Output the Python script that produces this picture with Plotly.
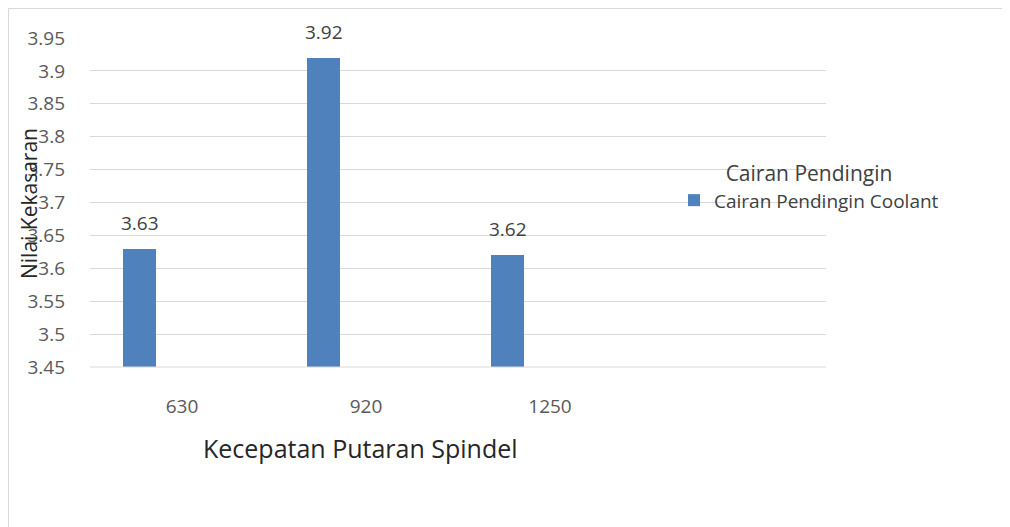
import plotly.graph_objects as go

categories = ["630", "920", "1250"]
values = [3.63, 3.92, 3.62]
value_labels = ["3.63", "3.92", "3.62"]
series_name = "Cairan Pendingin Coolant"
legend_title = "Cairan Pendingin"
y_tickvals = [3.45, 3.5, 3.55, 3.6, 3.65, 3.7, 3.75, 3.8, 3.85, 3.9, 3.95]
y_ticktext = ["3.45", "3.5", "3.55", "3.6", "3.65", "3.7", "3.75", "3.8", "3.85", "3.9", "3.95"]
x_title = "Kecepatan Putaran Spindel"
y_title = "Nilai Kekasaran"

FONT = "Open Sans, Lato, DejaVu Sans, sans-serif"

# page is rendered with an 8px body offset; plot area target (screen px): x 90-826, y 38-367
L, T = 82, 30
PW, PH = 736, 329
W, H = 1010, 527


def px(xs):
    return (xs - 8 - L) / PW


def py(ys):
    return (T + PH - (ys - 8)) / PH


BAR_W = 0.18
BAR_OFF = -0.32

fig = go.Figure()
fig.add_trace(go.Bar(
    x=categories, y=values, name=series_name,
    marker=dict(color="#4F81BD", line=dict(width=0)),
    width=BAR_W, offset=BAR_OFF,
    showlegend=True,
))

for i, (v, t) in enumerate(zip(values, value_labels)):
    fig.add_annotation(x=i + BAR_OFF + BAR_W / 2, y=v, text=t, showarrow=False,
                       yshift=26, xanchor="center", yanchor="middle",
                       font=dict(family=FONT, size=19, color="#404040"))

fig.update_layout(
    width=W, height=H,
    margin=dict(l=L, r=W - L - PW, t=T, b=H - T - PH),
    paper_bgcolor="white", plot_bgcolor="white",
    font=dict(family=FONT, color="#595959"),
    xaxis=dict(
        type="category", range=[-0.5, 3.5],
        showgrid=False, showline=False, zeroline=False,
        ticks="", tickfont=dict(family=FONT, size=19, color="#595959"),
        ticklabelstandoff=26,
    ),
    yaxis=dict(
        range=[3.45, 3.95], tickvals=y_tickvals, ticktext=y_ticktext,
        showgrid=True, gridcolor="#D9D9D9", gridwidth=1,
        zeroline=False, showline=False, ticks="",
        tickfont=dict(family=FONT, size=19, color="#595959"),
        ticklabelstandoff=24,
    ),
    legend=dict(
        x=px(674), y=py(154), xanchor="left", yanchor="top",
        title=dict(text=legend_title, side="top center",
                   font=dict(family=FONT, size=21, color="#404040")),
        font=dict(family=FONT, size=19, color="#404040"),
        itemwidth=30, bgcolor="rgba(0,0,0,0)",
    ),
    bargap=0,
)

# axis line at the bottom (3.45)
fig.add_shape(type="line", xref="paper", yref="paper", x0=0, x1=1, y0=0, y1=0,
              line=dict(color="#D9D9D9", width=1))
# chart border
fig.add_shape(type="rect", xref="paper", yref="paper",
              x0=px(8.5), x1=px(1030),
              y0=py(560), y1=py(8.5),
              line=dict(color="#D9D9D9", width=1), layer="below")

fig.add_annotation(text=x_title, xref="paper", yref="paper",
                   x=px(360), y=py(448),
                   xanchor="center", yanchor="middle", showarrow=False,
                   font=dict(family=FONT, size=25, color="#262626"))
fig.add_annotation(text=y_title, xref="paper", yref="paper",
                   x=px(29), y=py(204),
                   xanchor="center", yanchor="middle", textangle=-90, showarrow=False,
                   font=dict(family=FONT, size=21, color="#262626"))

fig.write_html("out.html")
